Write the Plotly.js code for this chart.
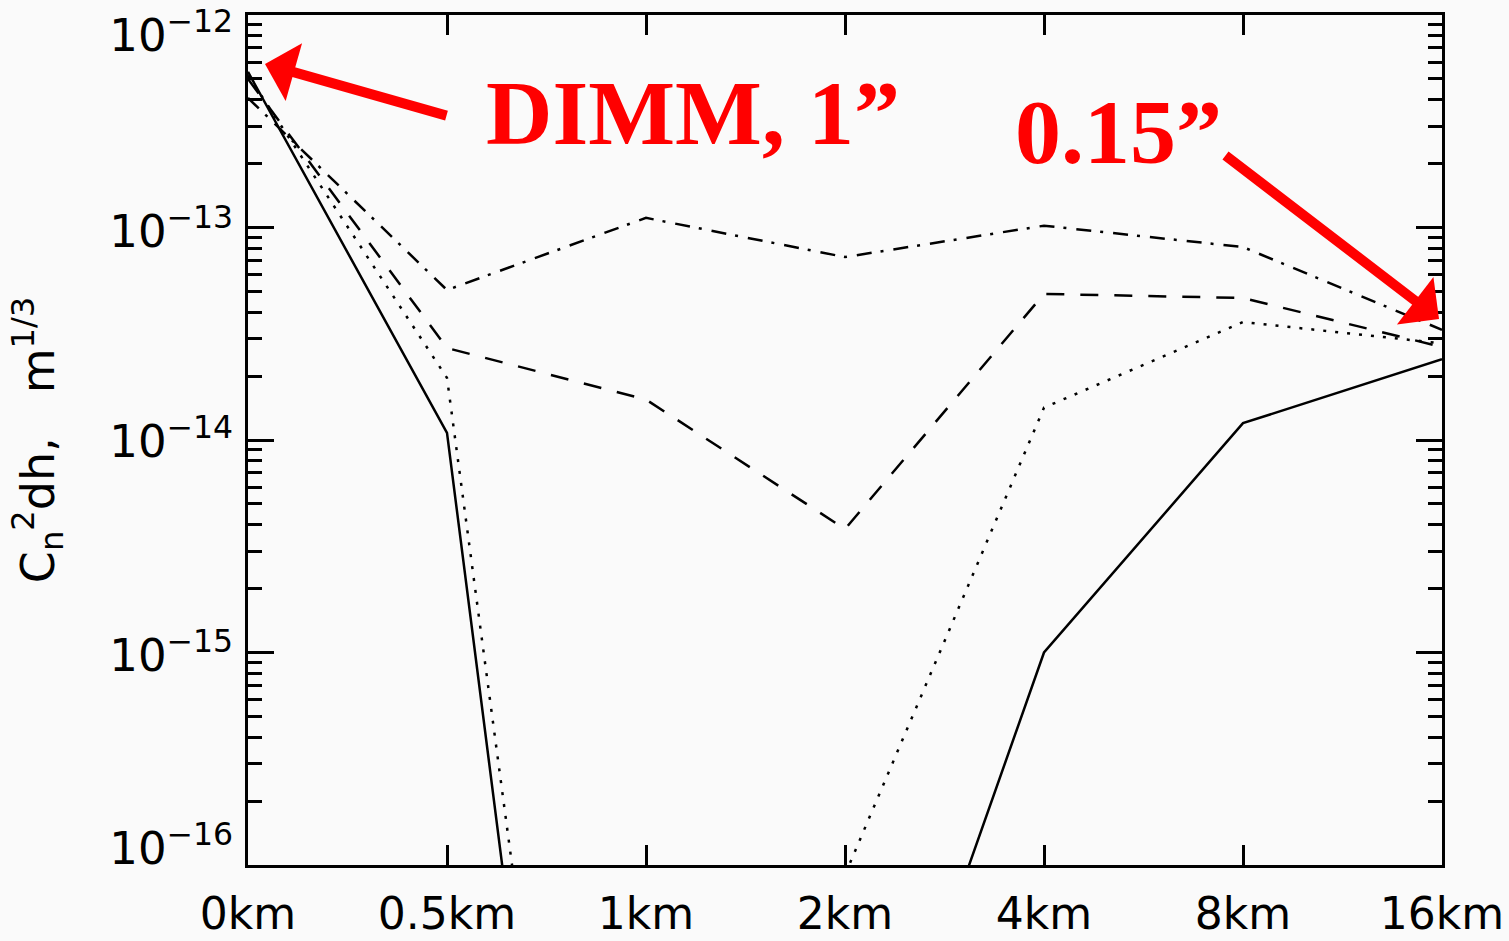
<!DOCTYPE html>
<html><head><meta charset="utf-8">
<script src="https://cdn.plot.ly/plotly-3.0.1.min.js"></script>
<style>html,body{margin:0;padding:0;background:#fafafa;} #chart{width:1509px;height:941px;}</style>
</head><body><div id="chart"></div>
<script>
// Altitude categories (x axis)
const heights = ['0km', '0.5km', '1km', '2km', '4km', '8km', '16km'];
// Cn^2 dh profiles (m^1/3), one per line style
const solidSeries   = [5.4e-13, 1.08e-14, 5e-22, 2.2e-18, 1.0e-15, 1.2e-14, 2.4e-14];
const dottedSeries  = [5.2e-13, 1.96e-14, 1.9e-21, 9e-17, 1.42e-14, 3.59e-14, 2.85e-14];
const dashedSeries  = [5.0e-13, 2.71e-14, 1.55e-14, 3.81e-15, 4.87e-14, 4.66e-14, 2.74e-14];
const dashDotSeries = [4.07e-13, 5.08e-14, 1.11e-13, 7.26e-14, 1.02e-13, 8.09e-14, 3.3e-14];
// Y tick decades
const yExponents = [-16, -15, -14, -13, -12];
// Labels
const yTitle = 'C<sub>n</sub><sup>2</sup>dh,\u00a0\u00a0\u00a0m<sup>1/3</sup>';
const dimmLabel = 'DIMM, 1\u201d';
const isoLabel = '0.15\u201d';

const W = 1509, H = 941, L = 248, R = 67, T = 15, B = 76;
const pw = W - L - R, ph = H - T - B;
const pxPerDecade = ph / 4;
// label placement nudges (pixels, + = down), as in the original figure
const labelNudge = [-17, 3, 1, 4, 20];

const yTickVals = yExponents.map(e => Math.pow(10, e));
const yLabelVals = yExponents.map((e, i) => Math.pow(10, e - labelNudge[i] / pxPerDecade));
const yTickText = yExponents.map(e => '10<sup>\u2212' + Math.abs(e) + '</sup>');

const lw = 2.5;
function tr(y, dash) {
  return {x: heights, y: y, type: 'scatter', mode: 'lines',
          line: {color: '#000', width: lw, dash: dash}, hoverinfo: 'skip', showlegend: false};
}
const data = [
  tr(solidSeries, 'solid'),
  tr(dottedSeries, '3px,9px'),
  tr(dashedSeries, '18px,16px'),
  tr(dashDotSeries, '15px,9px,3px,10px'),
  {x: [], y: [], yaxis: 'y2', type: 'scatter', mode: 'lines', showlegend: false, hoverinfo: 'skip'}
];

const xFont = {family: 'DejaVu Sans', size: 44, color: '#000'};
const yFont = {family: 'DejaVu Sans', size: 45, color: '#000'};
function px(x) { return (x - L) / pw; }
function py(y) { return (H - B - y) / ph; }

const layout = {
  width: W, height: H,
  margin: {l: L, r: R, t: T, b: B, pad: 0},
  paper_bgcolor: '#fafafa', plot_bgcolor: '#fafafa',
  font: xFont,
  showlegend: false,
  xaxis: {
    type: 'category', range: [0, 6], showgrid: false, zeroline: false,
    showline: true, linecolor: '#000', linewidth: 3, mirror: 'ticks',
    ticks: 'inside', ticklen: 20, tickwidth: 3, tickcolor: '#000',
    tickfont: xFont, ticklabelstandoff: 8, ticklabeloverflow: 'allow'
  },
  yaxis: {
    type: 'log', range: [-16, -12], tickmode: 'array',
    tickvals: yTickVals, ticktext: yTickText, showticklabels: false,
    showgrid: false, zeroline: false,
    showline: true, linecolor: '#000', linewidth: 3, mirror: 'ticks',
    ticks: 'inside', ticklen: 26, tickwidth: 3, tickcolor: '#000',
    minor: {ticks: 'inside', ticklen: 14, tickwidth: 3, tickcolor: '#000', dtick: 'D1', showgrid: false}
  },
  yaxis2: {
    type: 'log', range: [-16, -12], overlaying: 'y', side: 'left', anchor: 'x',
    tickmode: 'array', tickvals: yLabelVals, ticktext: yTickText,
    showgrid: false, zeroline: false, showline: false, ticks: '',
    tickfont: yFont, ticklabelstandoff: 14, ticklabeloverflow: 'allow',
    title: {text: yTitle, font: {family: 'DejaVu Sans', size: 46, color: '#000'}, standoff: 40}
  },
  annotations: [
    {xref: 'paper', yref: 'paper', x: px(265), y: py(64), ax: 190, ay: 54,
     text: ' ', showarrow: true, arrowhead: 1, arrowsize: 1, arrowwidth: 10,
     arrowcolor: '#ff0000', standoff: 0, startstandoff: 0},
    {xref: 'paper', yref: 'paper', x: px(1439), y: py(319), ax: -222, ay: -170,
     text: ' ', showarrow: true, arrowhead: 1, arrowsize: 1, arrowwidth: 10,
     arrowcolor: '#ff0000', standoff: 0, startstandoff: 0},
    {xref: 'paper', yref: 'paper', x: px(693), y: py(113), xanchor: 'center', yanchor: 'middle',
     text: dimmLabel, showarrow: false,
     font: {family: 'Liberation Serif', size: 92, color: '#ff0000', weight: 'bold'}},
    {xref: 'paper', yref: 'paper', x: px(1118), y: py(132), xanchor: 'center', yanchor: 'middle',
     text: isoLabel, showarrow: false,
     font: {family: 'Liberation Serif', size: 92, color: '#ff0000', weight: 'bold'}}
  ]
};

Plotly.newPlot('chart', data, layout, {displayModeBar: false, staticPlot: true});
</script>
</body></html>
